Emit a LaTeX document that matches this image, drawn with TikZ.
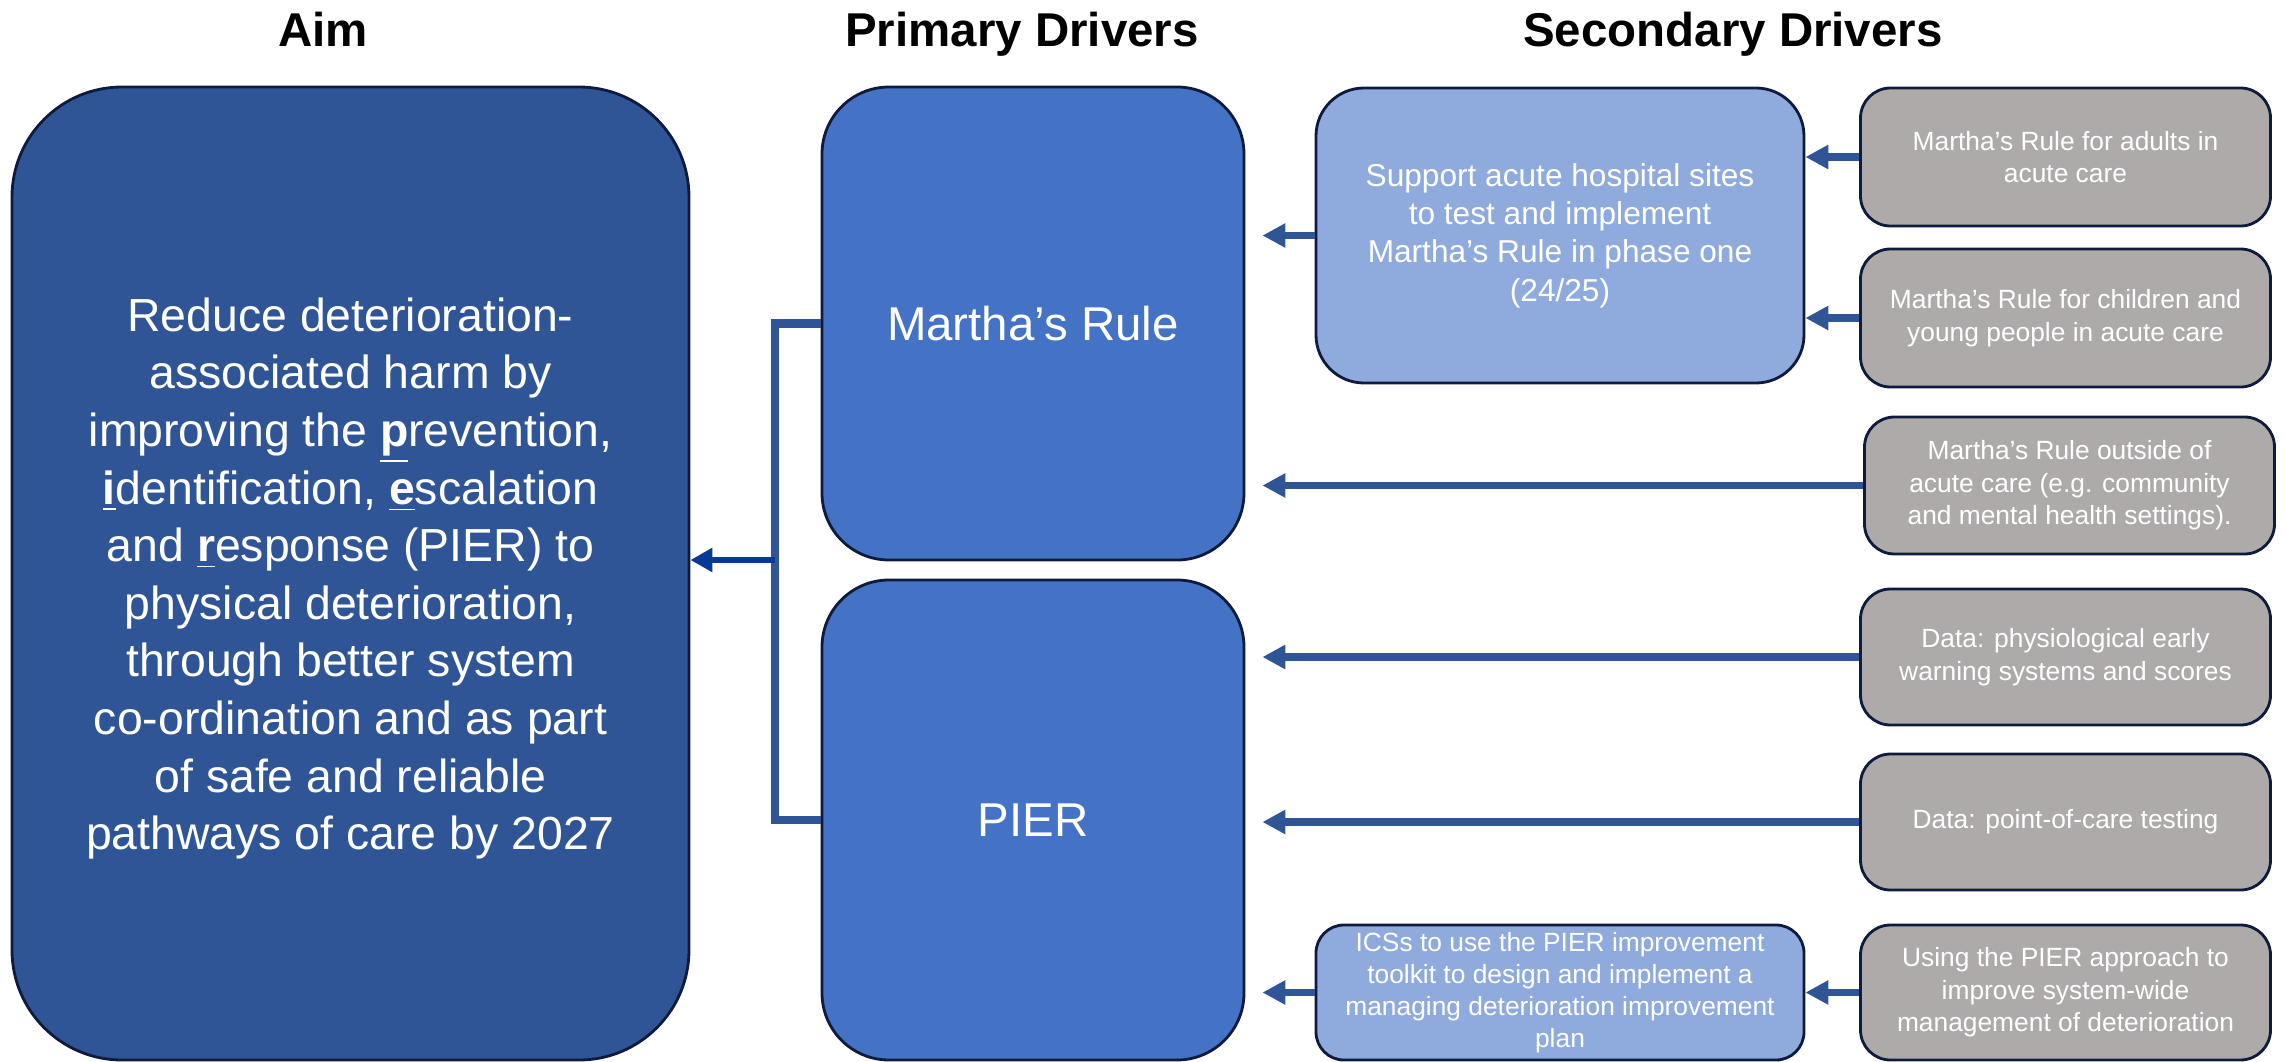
\documentclass[tikz,border=0pt]{standalone}
\usepackage{fontspec}
\setmainfont{Liberation Sans}
\usetikzlibrary{positioning,arrows.meta}
\definecolor{aimblue}{HTML}{2F5597}
\definecolor{pdblue}{HTML}{4472C4}
\definecolor{sdblue}{HTML}{8FAADC}
\definecolor{sdgrey}{HTML}{AEAAAA}
\definecolor{edgenavy}{HTML}{0E1B3D}
\definecolor{headblue}{HTML}{063A96}
\tikzstyle{title} = [font=\fontsize{13.5}{16}\selectfont\bfseries, anchor=base]
\tikzstyle{aimbox} = [draw=edgenavy, line width=0.8pt, fill=aimblue, rounded corners=1.1cm, text=white, align=center, minimum width=6.77cm, minimum height=9.73cm, font=\fontsize{13.2}{16.4}\selectfont]
\tikzstyle{primary} = [draw=edgenavy, line width=0.8pt, fill=pdblue, rounded corners=0.67cm, text=white, align=center, minimum width=4.22cm, font=\fontsize{13.5}{16}\selectfont]
\tikzstyle{secondary} = [draw=edgenavy, line width=0.8pt, fill=sdblue, text=white, align=center, minimum width=4.88cm, inner sep=1pt]
\tikzstyle{greybox} = [draw=edgenavy, line width=0.8pt, fill=sdgrey, rounded corners=0.3cm, text=white, align=center, minimum width=4.1cm, minimum height=1.37cm, font=\fontsize{7.5}{9.25}\selectfont]
\tikzstyle{link} = [draw=aimblue, line width=2pt, -{Triangle[length=0.23cm,width=0.23cm]}]

\begin{document}
\begin{tikzpicture}
        \useasboundingbox (0,0) rectangle (22.85,-10.62);
        %Titles
        \node [title] (taim) at (3.23,-0.465) {Aim};
        \node [title] (tpri) at (10.22,-0.465) {Primary Drivers};
        \node [title] (tsec) at (17.33,-0.465) {Secondary Drivers};
        %Blocks
        \node [aimbox] (aim) at (3.505,-5.735) {\rule{0pt}{12.4pt}Reduce deterioration-\\associated harm by\\improving the \underline{\textbf{p}}revention,\\\underline{\textbf{i}}dentification, \underline{\textbf{e}}scalation\\and \underline{\textbf{r}}esponse (PIER) to\\physical deterioration,\\through better system\\co-ordination and as part\\of safe and reliable\\pathways of care by 2027};
        \node [primary, minimum height=4.73cm] (mr) at (10.33,-3.235) {Martha’s Rule};
        \node [primary, minimum height=4.80cm] (pier) at (10.33,-8.20) {PIER};
        \node [secondary, rounded corners=0.48cm, minimum height=2.95cm, font=\fontsize{9}{10.9}\selectfont] (support) at (15.60,-2.355) {Support acute hospital sites\\to test and implement\\Martha’s Rule in phase one\\(24/25)};
        \node [secondary, rounded corners=0.28cm, minimum height=1.35cm, font=\fontsize{7.5}{9.1}\selectfont] (ics) at (15.60,-9.925) {ICSs to use the PIER improvement\\toolkit to design and implement a\\managing deterioration improvement\\plan};
        \node [greybox, minimum height=1.38cm] (adults) at (20.655,-1.57) {Martha’s Rule for adults in\\acute care};
        \node [greybox, minimum height=1.38cm] (children) at (20.655,-3.18) {Martha’s Rule for children and\\young people in acute care};
        \node [greybox] (outside) at (20.695,-4.855) {Martha’s Rule outside of\\acute care (e.g. community\\and mental health settings).};
        \node [greybox, minimum height=1.36cm] (ews) at (20.655,-6.57) {Data: physiological early\\warning systems and scores};
        \node [greybox, minimum height=1.36cm] (poct) at (20.655,-8.22) {Data: point-of-care testing};
        \node [greybox, minimum height=1.35cm] (approach) at (20.655,-9.925) {Using the PIER approach to\\improve system-wide\\management of deterioration};
        \coordinate (spine) at (7.75,-5.60);
        %Arrows
        \draw [draw=aimblue, line width=2.3pt] (mr.west) -| (spine) |- (pier.west);
        \draw [draw=headblue, line width=1.9pt, -{Triangle[length=0.22cm,width=0.23cm]}] (spine) -- (spine -| aim.east);
        \draw [link] (adults.west) -- (adults.west -| support.east);
        \draw [link] (children.west) -- (children.west -| support.east);
        \draw [link, shorten >=0.17cm] (support.west) -- (support.west -| mr.east);
        \draw [link, shorten >=0.17cm] (outside.west) -- (outside.west -| mr.east);
        \draw [link, shorten >=0.17cm] (ews.west) -- (ews.west -| pier.east);
        \draw [link, shorten >=0.17cm] (poct.west) -- (poct.west -| pier.east);
        \draw [link] (approach.west) -- (approach.west -| ics.east);
        \draw [link, shorten >=0.17cm] (ics.west) -- (ics.west -| pier.east);
    \end{tikzpicture}
\end{document}
